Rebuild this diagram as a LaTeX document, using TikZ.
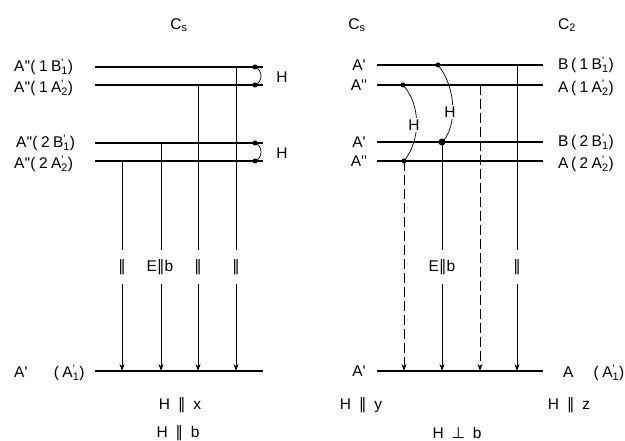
\documentclass[tikz,border=0pt]{standalone}
\usepackage{fontspec}
\setmainfont[LetterSpace=22]{Liberation Sans}
\newfontfamily\symf[LetterSpace=22]{DejaVu Sans}
\usetikzlibrary{arrows.meta}
\newcommand\pq{\textquotesingle}
\newcommand\dq{\textquotesingle\textquotesingle}
\newcommand\st[2]{\rlap{\textsuperscript{#1}}\textsubscript{#2}}
\newcommand\prl{{\symf ∥}}
\newcommand\prp{{\symf ⊥}}
\begin{document}
\begin{tikzpicture}[x=1pt,y=-1pt,
  lvl/.style={line width=1.6pt},
  tr/.style={line width=0.7pt},
  arr/.style={tr,-{Stealth[length=7pt,width=5pt]}},
  dsh/.style={dash pattern=on 10pt off 4pt},
  dot/.style={circle,fill,inner sep=0pt,minimum size=5pt},
  bigdot/.style={circle,fill,inner sep=0pt,minimum size=7pt},
  txt/.style={font=\fontsize{15.5}{17}\selectfont, inner sep=0pt},
  gap/.style={txt, minimum height=33pt, minimum width=8pt}]
\useasboundingbox (0,0) rectangle (625,441);

% ---------------- left panel ----------------
\node[txt] (csl) at (179,25) {C\textsubscript{s}};
\coordinate (L1w) at (95,67);  \coordinate (L1e) at (263,67);
\coordinate (L2w) at (95,85);  \coordinate (L2e) at (263,85);
\coordinate (L3w) at (95,143); \coordinate (L3e) at (263,143);
\coordinate (L4w) at (95,161); \coordinate (L4e) at (263,161);
\coordinate (L0w) at (95,371); \coordinate (L0e) at (263,371);
\foreach \i in {1,2,3,4,0} {\draw[lvl] (L\i w) -- (L\i e);}

\node[txt,anchor=west] (t1) at (14,67) {A\dq(1B\st{\pq}{1})};
\node[txt,anchor=west] (t2) at (14,88) {A\dq(1A\st{\pq}{2})};
\node[txt,anchor=west] (t3) at (16,143) {A\dq(2B\st{\pq}{1})};
\node[txt,anchor=west] (t4) at (14,164) {A\dq(2A\st{\pq}{2})};
\node[txt,anchor=west] (t0) at (14,373) {A\pq\hspace{1.7em}(A\st{\pq}{1})};

% bracket dots
\node[dot] (b1) at (255,67) {};
\node[dot] (b2) at (255,85) {};
\node[dot] (b3) at (255,143) {};
\node[dot] (b4) at (255,161) {};
\draw[tr] (b1.center) .. controls (263,70) and (263,82) .. (b2.center);
\draw[tr] (b3.center) .. controls (263,146) and (263,158) .. (b4.center);
\node[txt] (hl1) at (282,77) {H};
\node[txt] (hl2) at (282,153) {H};

% transitions
\coordinate (v1) at (122,161);
\coordinate (v2) at (161,143);
\coordinate (v3) at (198,85);
\coordinate (v4) at (236,67);
\node[gap] (g1) at (122,267) {\prl};
\node[gap] (g2) at (160,267) {E\prl b};
\node[gap] (g3) at (198,267) {\prl};
\node[gap] (g4) at (236,267) {\prl};
\foreach \i in {1,2,3,4} {
  \draw[tr] (v\i) -- (v\i |- g\i.north);
  \draw[arr] (v\i |- g\i.south) -- (v\i |- L0w);
}

\node[txt] (hx) at (180,405) {H \prl\ x};
\node[txt] (hb) at (178,433) {H \prl\ b};

% ---------------- right panel ----------------
\node[txt] (csr) at (357,25) {C\textsubscript{s}};
\node[txt] (c2) at (567,25) {C\textsubscript{2}};
\coordinate (R1w) at (377,65);  \coordinate (R1e) at (543,65);
\coordinate (R2w) at (377,85);  \coordinate (R2e) at (543,85);
\coordinate (R3w) at (377,142); \coordinate (R3e) at (543,142);
\coordinate (R4w) at (377,161); \coordinate (R4e) at (543,161);
\coordinate (R0w) at (377,371); \coordinate (R0e) at (543,371);
\foreach \i in {1,2,3,4,0} {\draw[lvl] (R\i w) -- (R\i e);}

\node[txt] (s1) at (359,65) {A\pq};
\node[txt] (s2) at (359,85) {A\dq};
\node[txt] (s3) at (359,142) {A\pq};
\node[txt] (s4) at (359,161) {A\dq};
\node[txt] (s0) at (359,371) {A\pq};

\node[txt,anchor=west] (u1) at (558,65) {B\,(1B\st{\pq}{1})};
\node[txt,anchor=west] (u2) at (558,88) {A\,(1A\st{\pq}{2})};
\node[txt,anchor=west] (u3) at (558,142) {B\,(2B\st{\pq}{1})};
\node[txt,anchor=west] (u4) at (558,164) {A\,(2A\st{\pq}{2})};
\node[txt,anchor=west] (u0) at (563,373) {A\hspace{1.3em}(A\st{\pq}{1})};

\node[dot] (d1) at (438,65) {};
\node[dot] (d2) at (403,85) {};
\node[bigdot] (d3) at (442,142) {};
\node[dot] (d4) at (404,161) {};

\draw[tr] (d2.center) .. controls (421,105) and (421,140) .. (d4.center);
\draw[tr] (d1.center) .. controls (457,88) and (457,128) .. (d3.center);
\node[txt,fill=white,inner sep=2pt] (hr1) at (414,125) {H};
\node[txt,fill=white,inner sep=2pt] (hr2) at (450,112) {H};

\coordinate (w1) at (404,161);
\coordinate (w3) at (480,85);
\coordinate (w4) at (517,65);
\node[gap] (e2) at (442,267) {E\prl b};
\node[gap] (e4) at (517,267) {\prl};
\draw[arr,dsh] (d4.center) -- (w1 |- R0w);
\draw[arr,dsh] (w3) -- (w3 |- R0w);
\draw[tr] (d3.center) -- (d3 |- e2.north);
\draw[arr] (d3 |- e2.south) -- (d3 |- R0w);
\draw[tr] (w4) -- (w4 |- e4.north);
\draw[arr] (w4 |- e4.south) -- (w4 |- R0w);

\node[txt] (hy) at (361,405) {H \prl\ y};
\node[txt] (hz) at (569,405) {H \prl\ z};
\node[txt] (hp) at (457,433) {H \prp\ b};
\end{tikzpicture}
\end{document}
